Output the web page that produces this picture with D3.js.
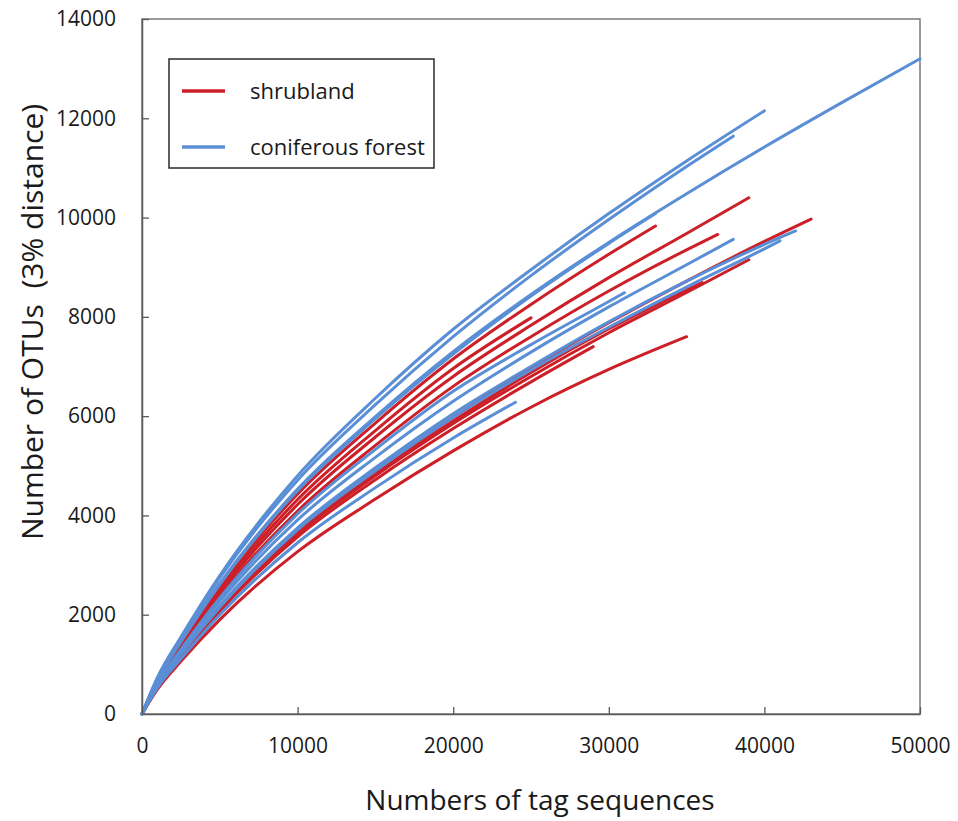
<!DOCTYPE html>
<html>
<head>
<meta charset="utf-8">
<script src="https://cdn.jsdelivr.net/npm/d3@7"></script>
<style>
  html, body { margin: 0; padding: 0; background: #fff; }
  svg { display: block; font-family: "Open Sans", "Noto Sans", sans-serif; }
</style>
</head>
<body>
<svg id="chart" width="958" height="821"></svg>
<script>
'use strict'

// rarefaction curves, [tag sequences, OTUs]
const shrubland = [
  [[0,0],[1000,650],[2500,1360],[5000,2450],[10000,4220],[15000,5580],[20000,6800],[25000,7830],[30000,8790],[35000,9680],[39000,10400]],
  [[0,0],[1000,680],[2500,1430],[5000,2570],[10000,4430],[15000,5860],[20000,7150],[25000,8250],[30000,9260],[33000,9830]],
  [[0,0],[1000,630],[2500,1320],[5000,2380],[10000,4090],[15000,5410],[20000,6600],[25000,7600],[30000,8520],[35000,9350],[37000,9660]],
  [[0,0],[1000,570],[2500,1200],[5000,2150],[10000,3710],[15000,4900],[20000,5980],[25000,6970],[30000,7880],[35000,8720],[40000,9520],[43000,9970]],
  [[0,0],[1000,560],[2500,1170],[5000,2110],[10000,3630],[15000,4800],[20000,5850],[25000,6800],[30000,7680],[35000,8490],[39000,9150]],
  [[0,0],[1000,560],[2500,1180],[5000,2120],[10000,3660],[15000,4840],[20000,5900],[25000,6880],[30000,7760],[35000,8540],[36000,8690]],
  [[0,0],[1000,660],[2500,1390],[5000,2510],[10000,4320],[15000,5710],[20000,6960],[25000,7980]],
  [[0,0],[1000,550],[2500,1150],[5000,2070],[10000,3570],[15000,4720],[20000,5750],[25000,6690],[29000,7400]],
  [[0,0],[1000,500],[2500,1060],[5000,1900],[10000,3270],[15000,4330],[20000,5300],[25000,6180],[30000,6940],[35000,7600]]
]

const coniferous = [
  [[0,0],[1000,690],[2500,1460],[5000,2630],[10000,4530],[15000,5990],[20000,7300],[25000,8450],[30000,9500],[35000,10480],[40000,11420],[45000,12320],[50000,13200]],
  [[0,0],[1000,740],[2500,1550],[5000,2790],[10000,4800],[15000,6360],[20000,7750],[25000,8950],[30000,10080],[35000,11140],[40000,12150]],
  [[0,0],[1000,720],[2500,1520],[5000,2740],[10000,4710],[15000,6230],[20000,7600],[25000,8830],[30000,9960],[35000,11030],[38000,11640]],
  [[0,0],[1000,690],[2500,1450],[5000,2610],[10000,4500],[15000,5950],[20000,7250],[25000,8420],[30000,9480],[33000,10080]],
  [[0,0],[1000,580],[2500,1210],[5000,2180],[10000,3750],[15000,4960],[20000,6050],[25000,7000],[30000,7900],[35000,8720],[40000,9460],[42000,9730]],
  [[0,0],[1000,570],[2500,1200],[5000,2150],[10000,3710],[15000,4900],[20000,5980],[25000,6930],[30000,7790],[35000,8600],[40000,9370],[41000,9530]],
  [[0,0],[1000,600],[2500,1260],[5000,2270],[10000,3910],[15000,5170],[20000,6300],[25000,7290],[30000,8200],[35000,9050],[38000,9560]],
  [[0,0],[1000,620],[2500,1300],[5000,2340],[10000,4030],[15000,5330],[20000,6500],[25000,7440],[30000,8310],[31000,8485]],
  [[0,0],[1000,530],[2500,1110],[5000,2000],[10000,3450],[15000,4560],[20000,5560],[24000,6280]]
]

const xTicks = [0, 10000, 20000, 30000, 40000, 50000]
const yTicks = [0, 2000, 4000, 6000, 8000, 10000, 12000, 14000]
const legendNames = ['shrubland', 'coniferous forest']
const colors = ['#cc1f27', '#5a8fd6']

const margins = {left: 142, right: 38, top: 19, bottom: 107}
const width = 958 - margins.left - margins.right
const height = 821 - margins.top - margins.bottom

const svg = d3.select('#chart')

const xScale = d3.scaleLinear().domain([0, 50000]).range([margins.left, margins.left + width])
const yScale = d3.scaleLinear().domain([0, 14000]).range([margins.top + height, margins.top])

const line = d3.line()
  .x(d => xScale(d[0]))
  .y(d => yScale(d[1]))
  .curve(d3.curveMonotoneX)

// frame
svg.append('rect')
  .attr('x', margins.left)
  .attr('y', margins.top)
  .attr('width', width)
  .attr('height', height)
  .attr('fill', 'none')
  .attr('stroke', '#7a7a7a')
  .attr('stroke-width', 1.5)

// curves: shrubland underneath, coniferous forest on top
svg.append('g').selectAll('path')
  .data(shrubland)
  .enter().append('path')
  .attr('d', line)
  .attr('fill', 'none')
  .attr('stroke', colors[0])
  .attr('stroke-width', 3)
  .attr('stroke-linecap', 'round')

svg.append('g').selectAll('path')
  .data(coniferous)
  .enter().append('path')
  .attr('d', line)
  .attr('fill', 'none')
  .attr('stroke', colors[1])
  .attr('stroke-width', 3)
  .attr('stroke-linecap', 'round')

// axes, ticks pointing inward
const xAxis = d3.axisBottom(xScale).tickValues(xTicks).tickSizeInner(-7).tickSizeOuter(0).tickPadding(24).tickFormat(d3.format('d'))
const yAxis = d3.axisLeft(yScale).tickValues(yTicks).tickSizeInner(-7).tickSizeOuter(0).tickPadding(26).tickFormat(d3.format('d'))

const gx = svg.append('g')
  .attr('transform', 'translate(0,' + (margins.top + height) + ')')
  .call(xAxis)
const gy = svg.append('g')
  .attr('transform', 'translate(' + margins.left + ',0)')
  .call(yAxis)

for (const g of [gx, gy]) {
  g.select('.domain').attr('stroke', '#5a5a5a').attr('stroke-width', 1.5)
  g.selectAll('.tick line').attr('stroke', '#5a5a5a').attr('stroke-width', 1.3)
  g.selectAll('.tick text')
    .attr('fill', '#1a1a1a')
    .style('font-size', '21px')
    .style('font-family', '"Open Sans", sans-serif')
}
gx.selectAll('.tick').filter(d => d === 0).select('line').remove()
gy.selectAll('.tick').filter(d => d === 0).select('line').remove()

// axis titles
svg.append('text')
  .attr('x', 540)
  .attr('y', 810)
  .attr('text-anchor', 'middle')
  .attr('fill', '#1a1a1a')
  .style('font-size', '28px')
  .text('Numbers of tag sequences')

svg.append('text')
  .attr('transform', 'translate(43,322) rotate(-90)')
  .attr('text-anchor', 'middle')
  .attr('fill', '#1a1a1a')
  .style('font-size', '30px')
  .style('white-space', 'pre')
  .text('Number of OTUs  (3% distance)')

// legend
const legend = svg.append('g')
legend.append('rect')
  .attr('x', 169)
  .attr('y', 59)
  .attr('width', 265)
  .attr('height', 109)
  .attr('fill', '#fff')
  .attr('stroke', '#2a2a2a')
  .attr('stroke-width', 1.5)

const legendRows = legend.selectAll('.row')
  .data(legendNames)
  .enter().append('g')
  .attr('class', 'row')
  .attr('transform', (d, i) => 'translate(0,' + (91 + i * 56) + ')')

legendRows.append('line')
  .attr('x1', 182)
  .attr('x2', 225)
  .attr('stroke', (d, i) => colors[i])
  .attr('stroke-width', 3.5)

legendRows.append('text')
  .attr('x', 250)
  .attr('dy', '0.35em')
  .attr('fill', '#1a1a1a')
  .style('font-size', '22px')
  .text(d => d)
</script>
</body>
</html>
